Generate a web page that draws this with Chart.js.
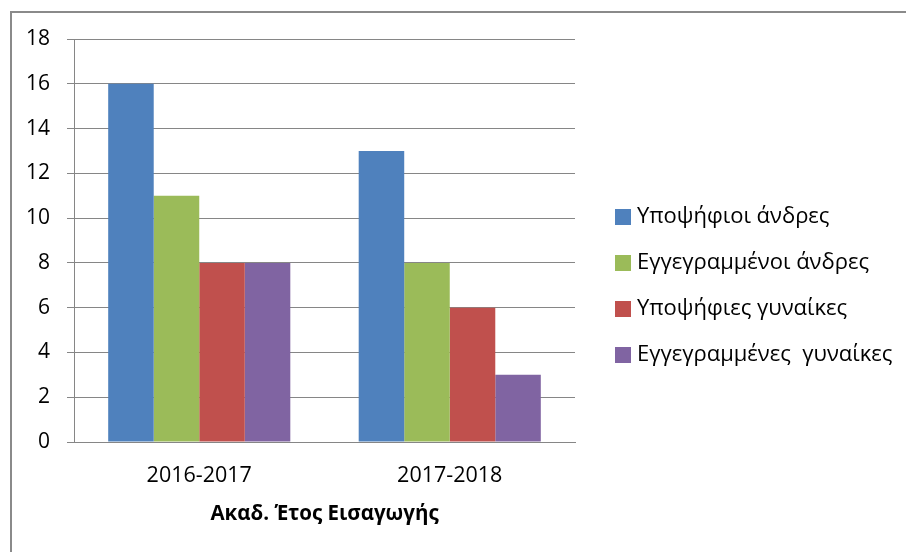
<!DOCTYPE html>
<html>
<head>
<meta charset="utf-8">
<script src="https://cdn.jsdelivr.net/npm/chart.js@4"></script>
<style>
html,body{margin:0;padding:0;background:#fff;}
#wrap{position:relative;width:906px;height:552px;}
</style>
</head>
<body>
<div id="wrap"><canvas id="c" width="906" height="552"></canvas></div>
<script>
const categories = ['2016-2017', '2017-2018'];
const seriesNames = ['Υποψήφιοι άνδρες', 'Εγγεγραμμένοι άνδρες', 'Υποψήφιες γυναίκες', 'Εγγεγραμμένες  γυναίκες'];
const candidatesMen = [16, 13];
const enrolledMen = [11, 8];
const candidatesWomen = [8, 6];
const enrolledWomen = [8, 3];
const seriesColors = ['#4F81BD', '#9BBB59', '#C0504D', '#8064A2'];
const yTicks = [0, 2, 4, 6, 8, 10, 12, 14, 16, 18];
const xTitle = 'Ακαδ. Έτος Εισαγωγής';

const FONT = '"Open Sans", "Noto Sans", sans-serif';
const GRID = '#868686';

const seriesValues = [candidatesMen, enrolledMen, candidatesWomen, enrolledWomen];

const frameAndLegend = {
  id: 'frameAndLegend',
  beforeDraw(chart) {
    const ctx = chart.ctx;
    ctx.save();
    ctx.fillStyle = '#fff';
    ctx.fillRect(0, 0, chart.width, chart.height);
    ctx.strokeStyle = '#8a8a8a';
    ctx.lineWidth = 2;
    ctx.beginPath();
    ctx.moveTo(11, chart.height + 5);
    ctx.lineTo(11, 12);
    ctx.lineTo(chart.width + 5, 12);
    ctx.stroke();
    ctx.restore();
  },
  afterDraw(chart) {
    const ctx = chart.ctx;
    ctx.save();
    ctx.font = '22px ' + FONT;
    ctx.textBaseline = 'middle';
    ctx.textAlign = 'left';
    chart.data.datasets.forEach((ds, i) => {
      const cy = 217 + 46 * i;
      ctx.fillStyle = ds.backgroundColor;
      ctx.fillRect(615, cy - 8, 16, 16);
      ctx.fillStyle = '#000';
      ctx.fillText(ds.label, 637, cy);
    });
    ctx.restore();
  }
};

new Chart(document.getElementById('c'), {
  type: 'bar',
  data: {
    labels: categories,
    datasets: seriesNames.map((name, i) => ({
      label: name,
      data: seriesValues[i],
      backgroundColor: seriesColors[i],
      borderWidth: 0,
      barPercentage: 1.0,
      categoryPercentage: 0.727
    }))
  },
  options: {
    responsive: false,
    animation: false,
    layout: { padding: { top: 39, right: 331, left: 0, bottom: 0 } },
    plugins: { legend: { display: false }, tooltip: { enabled: false } },
    scales: {
      x: {
        grid: { display: false, drawTicks: false, tickLength: 0 },
        border: { display: true, color: GRID, width: 1 },
        ticks: { color: '#000', font: { family: FONT, size: 21.5 }, padding: 21, maxRotation: 0 },
        title: { display: true, text: xTitle, color: '#000', font: { family: FONT, size: 20.5, weight: 'bold' }, padding: { top: 0, bottom: 26 } },
        afterFit(s) { s.height = 110; }
      },
      y: {
        min: 0,
        max: 18,
        afterBuildTicks(s) { s.ticks = yTicks.map(v => ({ value: v })); },
        grid: { color: GRID, lineWidth: 1, drawTicks: true, tickLength: 7 },
        border: { display: true, color: GRID, width: 1 },
        ticks: { color: '#000', font: { family: FONT, size: 21 }, padding: 17 },
        afterFit(s) { s.width = 74; }
      }
    }
  },
  plugins: [frameAndLegend]
});
</script>
</body>
</html>
